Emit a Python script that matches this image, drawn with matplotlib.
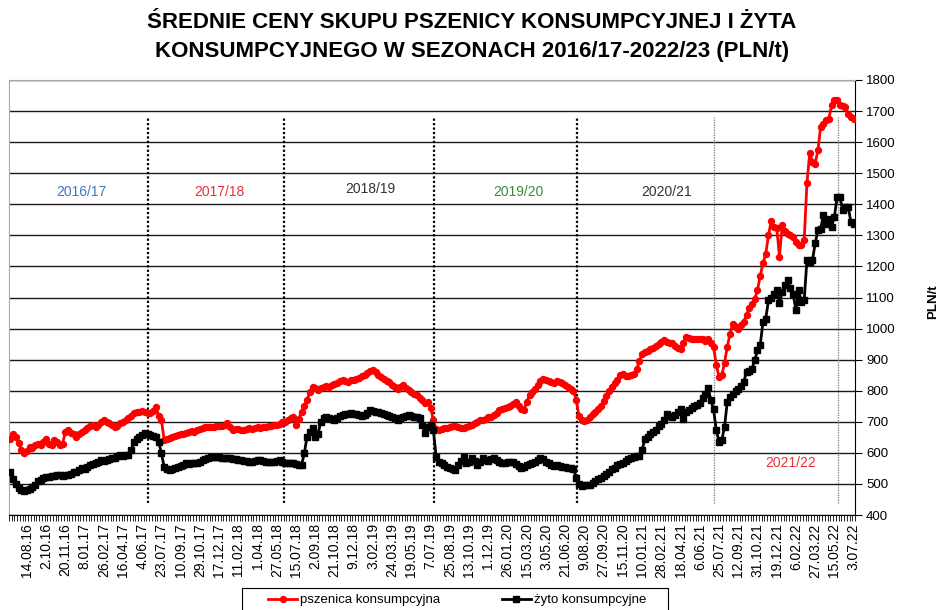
import matplotlib.pyplot as plt
from matplotlib.patches import Rectangle
import numpy as np

plt.rcParams['font.family'] = ['Liberation Sans', 'DejaVu Sans']

# weekly prices, PLN/t (one value per week, first week of July 2016 .. early July 2022)
pszenica = [
    645, 660, 650, 632, 610, 598, 605, 620, 615, 625,
    630, 626, 635, 643, 630, 624, 641, 636, 625, 628,
    668, 673, 665, 660, 652, 660, 668, 673, 680, 686,
    690, 684, 690, 700, 706, 700, 697, 690, 684, 688,
    697, 700, 706, 711, 718, 727, 730, 732, 736, 733,
    728, 727, 735, 748, 720, 705, 641, 645, 647, 652,
    655, 657, 660, 662, 663, 666, 670, 668, 673, 676,
    680, 682, 684, 684, 683, 687, 686, 688, 690, 695,
    684, 673, 676, 678, 674, 673, 676, 680, 677, 679,
    682, 680, 684, 684, 686, 688, 690, 690, 694, 698,
    700, 705, 711, 716, 690, 710, 732, 752, 770, 795,
    812, 808, 802, 808, 812, 815, 812, 818, 823, 826,
    830, 834, 832, 828, 834, 834, 838, 842, 846, 850,
    856, 862, 866, 860, 852, 845, 839, 832, 828, 820,
    812, 807, 812, 818, 810, 802, 796, 791, 785, 778,
    770, 762, 765, 745, 705, 676, 673, 676, 679, 681,
    683, 686, 686, 684, 680, 679, 682, 686, 690, 695,
    700, 705, 707, 710, 714, 716, 722, 728, 737, 740,
    744, 748, 752, 758, 764, 750, 740, 737, 765, 785,
    795, 807, 818, 830, 839, 836, 832, 828, 826, 830,
    828, 824, 818, 812, 805, 800, 770, 720, 706, 703,
    705, 715, 724, 732, 740, 752, 768, 782, 800, 812,
    826, 836, 850, 853, 847, 848, 852, 853, 870, 895,
    918, 925, 928, 933, 938, 943, 950, 958, 963, 958,
    955, 954, 945, 936, 933, 955, 973, 970, 967, 968,
    967, 966, 965, 960, 965, 955, 942, 882, 845, 850,
    890, 941, 984, 1016, 1005, 1000, 1010, 1022, 1045, 1065,
    1080, 1095, 1124, 1170, 1210, 1240, 1300, 1346, 1328, 1325,
    1231, 1333, 1315, 1305, 1300, 1295, 1280, 1270, 1269, 1285,
    1467, 1564, 1537, 1531, 1574, 1650, 1660, 1671, 1676, 1719,
    1735, 1735, 1719, 1716, 1714, 1690, 1680, 1676,
]

zyto = [
    539, 515, 500, 488, 482, 478, 480, 485, 490, 498,
    510, 512, 518, 521, 523, 525, 527, 530, 528, 526,
    530, 529, 532, 537, 540, 545, 550, 548, 555, 561,
    563, 568, 572, 577, 575, 578, 580, 582, 585, 590,
    593, 590, 594, 593, 609, 636, 645, 652, 658, 663,
    660, 657, 654, 650, 636, 598, 555, 548, 545, 548,
    552, 553, 558, 562, 566, 564, 568, 566, 566, 570,
    577, 580, 584, 586, 588, 588, 586, 585, 585, 584,
    582, 580, 579, 578, 576, 575, 573, 571, 571, 573,
    577, 576, 574, 571, 572, 570, 571, 574, 577, 570,
    566, 568, 567, 566, 564, 562, 561, 598, 652, 668,
    679, 652, 660, 700, 712, 716, 712, 708, 705, 712,
    718, 721, 724, 726, 727, 726, 724, 722, 720, 721,
    728, 737, 735, 732, 730, 727, 725, 722, 718, 716,
    712, 705, 712, 716, 720, 721, 718, 716, 714, 711,
    690, 663, 684, 689, 673, 588, 570, 566, 560, 556,
    552, 548, 545, 560, 575, 588, 566, 572, 582, 575,
    561, 570, 582, 578, 575, 580, 582, 578, 572, 566,
    568, 570, 572, 570, 565, 558, 550, 555, 560, 563,
    566, 572, 578, 582, 580, 572, 566, 561, 558, 560,
    558, 556, 555, 552, 550, 548, 520, 500, 493, 495,
    495, 497, 503, 510, 516, 520, 527, 532, 538, 548,
    552, 560, 564, 568, 575, 580, 584, 588, 591, 590,
    610, 644, 650, 660, 666, 675, 685, 692, 705, 724,
    720, 714, 722, 732, 740, 708, 730, 738, 745, 751,
    755, 762, 778, 790, 810, 770, 740, 673, 635, 641,
    684, 764, 780, 791, 800, 807, 815, 828, 861, 865,
    871, 898, 930, 947, 1022, 1032, 1091, 1097, 1110, 1124,
    1081, 1118, 1140, 1156, 1129, 1110, 1059, 1124, 1086, 1091,
    1220, 1215, 1220, 1274, 1317, 1322, 1365, 1338, 1354, 1328,
    1360, 1424, 1424, 1381, 1392, 1392, 1344, 1335,
]

# every 7th week is labelled, starting with the 7th point
tick_labels = [
    '14.08.16', '2.10.16', '20.11.16', '8.01.17', '26.02.17', '16.04.17', '4.06.17',
    '23.07.17', '10.09.17', '29.10.17', '17.12.17', '11.02.18', '1.04.18', '27.05.18',
    '15.07.18', '2.09.18', '21.10.18', '9.12.18', '3.02.19', '24.03.19', '19.05.19',
    '7.07.19', '25.08.19', '13.10.19', '1.12.19', '26.01.20', '15.03.20', '3.05.20',
    '21.06.20', '9.08.20', '27.09.20', '15.11.20', '10.01.21', '28.02.21', '18.04.21',
    '6.06.21', '25.07.21', '12.09.21', '31.10.21', '19.12.21', '6.02.22', '27.03.22',
    '15.05.22', '3.07.22',
]

seasons = ['2016/17', '2017/18', '2018/19', '2019/20', '2020/21', '2021/22']
season_colors = ['#3f78c0', '#e8323c', '#333333', '#3c8c3c', '#333333', '#e8323c']
season_pos = [(26, 1438), (76, 1438), (131, 1448), (185, 1440), (239, 1440), (284, 567)]
season_breaks = [50, 99.5, 154.3, 206.3, 256.1, 301.2]

x = np.arange(len(pszenica))

fig = plt.figure(figsize=(9.41, 6.10), dpi=100)
ax = fig.add_axes([9 / 941, 1 - 515 / 610, 846 / 941, 435 / 610])

ax.plot(x, pszenica, color='#ff0000', lw=2, marker='o', ms=4.3, mec='#ff0000',
        label='pszenica konsumpcyjna', zorder=4)
ax.plot(x, zyto, color='black', lw=2, marker='s', ms=4.4,
        label='żyto konsumpcyjne', zorder=4)

for i, b in enumerate(season_breaks):
    if i < 4:
        ax.vlines(b, 440, 1680, colors='black', linestyles=(0, (1, 1)), lw=1.6, zorder=3)
    else:
        ax.vlines(b, 440, 1680, colors='#777777', linestyles=(0, (1, 1)), lw=0.9, zorder=3)

for s, c, (px, py) in zip(seasons, season_colors, season_pos):
    ax.text(px, py, s, color=c, fontsize=10, ha='center', va='center')

ax.set_xlim(-0.5, len(pszenica) - 0.5)
ax.set_ylim(400, 1800)
ax.set_yticks(range(400, 1801, 100))
ax.yaxis.tick_right()
ax.tick_params(axis='y', length=5, labelsize=9.5, pad=3)
ax.yaxis.grid(True, color='#1a1a1a', lw=1)
ax.set_axisbelow(True)

ax.set_xticks(np.arange(6, len(pszenica), 7))
ax.set_xticklabels(tick_labels, rotation=90, fontsize=10)
ax.set_xticks(np.arange(-0.5, len(pszenica), 1), minor=True)
ax.tick_params(axis='x', which='major', length=0, pad=6)
ax.tick_params(axis='x', which='minor', length=4, width=0.6)

for side in ['left', 'top']:
    ax.spines[side].set_color('#a8a8a8')
ax.spines['right'].set_color('black')
ax.spines['bottom'].set_color('black')

fig.text(933 / 941, 1 - 302 / 610, 'PLN/t', rotation=90, fontsize=9.5,
         fontweight='bold', ha='center', va='center')

fig.text(472 / 941, 1 - 22 / 610, 'ŚREDNIE CENY SKUPU PSZENICY KONSUMPCYJNEJ I ŻYTA',
         fontsize=16, fontweight='bold', ha='center', va='center')
fig.text(472 / 941, 1 - 52 / 610, 'KONSUMPCYJNEGO W SEZONACH 2016/17-2022/23 (PLN/t)',
         fontsize=16, fontweight='bold', ha='center', va='center')

# legend box runs off the bottom edge of the picture
fig.patches.append(Rectangle((242 / 941, -0.05), 426 / 941, 0.05 + 1 - 588 / 610,
                             transform=fig.transFigure, fill=False, edgecolor='black', lw=0.8))
leg = fig.legend(loc='upper left', bbox_to_anchor=(268 / 941, 0, 378 / 941, 1 - 594 / 610),
                 mode='expand', ncol=2, frameon=False, fontsize=9.5, handlelength=2.2,
                 handletextpad=0.2, borderaxespad=0, borderpad=0)

fig.savefig('out.png', dpi=100)
